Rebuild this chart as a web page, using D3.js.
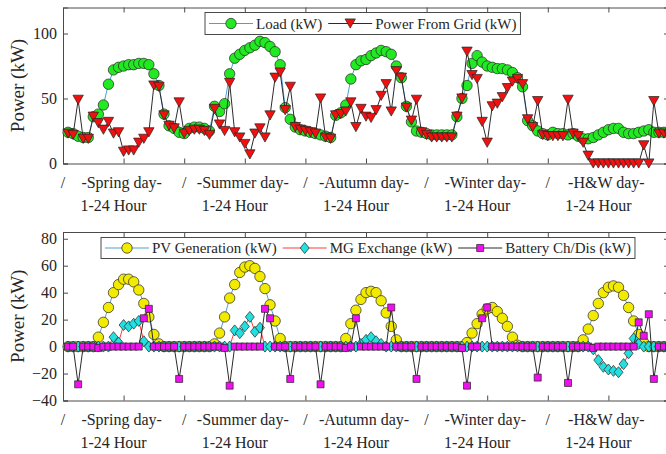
<!DOCTYPE html>
<html>
<head>
<meta charset="utf-8">
<script src="https://cdn.jsdelivr.net/npm/d3@7"></script>
<style>
  body { margin: 0; background: #fff; }
  svg { display: block; font-family: "Liberation Serif", "Times New Roman", serif; }
</style>
</head>
<body>
<div class="canvas"></div>
<script>
// hours 1..120 = 5 typical days x 24 h
const hours = d3.range(1, 121);
const dayNames = ['-Spring day-', '-Summer day-', '-Autumn day-', '-Winter day-', '-H&W day-'];
const hourLabel = '1-24 Hour';
const xTicks = d3.range(0, 121, 12);
const yTicksTop = [0, 50, 100];
const yTicksBot = [-40, -20, 0, 20, 40, 60, 80];

// top panel (kW)
const loadKW = [
  24, 23, 21, 20, 20, 36, 38, 45, 61, 72, 74, 75, 76, 76, 77, 77, 76, 69, 60, 38, 29, 27, 24, 23,
  27, 28, 28, 27, 25, 44, 40, 46, 69, 81, 84, 87, 89, 91, 94, 93, 90, 86, 76, 43, 34, 28, 26, 25,
  24, 23, 22, 21, 20, 37, 39, 45, 65, 76, 79, 80, 83, 85, 87, 86, 84, 75, 66, 44, 32, 25, 24, 23,
  22, 22, 22, 22, 22, 36, 50, 60, 77, 83, 78, 75, 74, 73, 73, 72, 70, 66, 59, 33, 29, 25, 23, 22,
  24, 23, 23, 22, 23, 21, 19, 19, 20, 22, 24, 26, 27, 27, 24, 23, 23, 24, 25, 26, 24, 24, 24, 24
];
const gridKW = [
  23, 22, 49, 19, 19, 36, 31, 26, 32, 23, 24, 9, 10, 10, 16, 19, 24, 60, 59, 37, 29, 27, 47, 23,
  25, 26, 26, 25, 22, 42, 30, 25, 62, 24, 20, 15, 7, 23, 27, 20, 37, 66, 70, 41, 59, 28, 26, 25,
  24, 23, 50, 20, 19, 37, 38, 40, 47, 28, 42, 36, 35, 41, 52, 61, 40, 71, 66, 43, 33, 49, 24, 22,
  20, 20, 20, 20, 20, 36, 50, 86, 68, 65, 32, 16, 44, 46, 51, 58, 63, 65, 61, 34, 28, 48, 22, 21,
  21, 21, 21, 49, 23, 21, 16, 6, 0, 0, 0, 0, 0, 0, 0, 0, 0, 0, 14, 0, 48, 23, 23, 22
];

// bottom panel (kW)
const pvKW = [
  0, 0, 0, 0, 0, 0, 7, 18, 29, 40, 46, 50, 50, 48, 42, 32, 22, 9, 2, 0, 0, 0, 0, 0,
  0, 0, 0, 0, 0, 2, 10, 22, 36, 46, 55, 59, 60, 58, 52, 43, 31, 19, 6, 0, 0, 0, 0, 0,
  0, 0, 0, 0, 0, 0, 0, 6, 17, 27, 35, 40, 41, 40, 34, 25, 15, 5, 0, 0, 0, 0, 0, 0,
  0, 0, 0, 0, 0, 0, 0, 3, 10, 17, 24, 28, 29, 26, 21, 15, 7, 1, 0, 0, 0, 0, 0, 0,
  0, 0, 0, 0, 0, 0, 5, 13, 23, 32, 40, 44, 45, 44, 38, 29, 19, 9, 3, 0, 0, 0, 0, 0
];
const mgKW = [
  0, 0, 0, 0, 0, 0, 0, 0, 0, 7, 3, 16, 15, 17, 19, 4, 0, 0, 0, 0, 0, 0, 0, 0,
  0, 0, 0, 0, 0, 0, 0, 0, 0, 12, 10, 15, 22, 11, 14, 0, 0, 0, 0, 0, 0, 0, 0, 0,
  0, 0, 0, 0, 0, 0, 0, 0, 0, 0, 2, 5, 7, 4, 2, 0, 0, 0, 0, 0, 0, 0, 0, 0,
  0, 0, 0, 0, 0, 0, 0, 0, 0, 0, 0, 0, 0, 0, 0, 0, 0, 0, 0, 0, 0, 0, 0, 0,
  0, 0, 0, 0, 0, 0, 0, 0, -2, -10, -15, -17, -18, -19, -13, -5, 6, 2, 0, 0, 0, 0, 0, 0
];
const batteryKW = [
  0, 0, -28, 0, 0, 0, -1, 0, 0, 0, 0, 0, 0, 0, 0, 21, 28, 0, 0, 0, 0, 0, -24, 0,
  0, 0, 0, 0, 0, 0, 0, -1, -29, 0, 0, 0, 0, 0, 0, 28, 21, 0, 0, 0, -24, 0, 0, 0,
  0, 0, -28, 0, 0, 0, 0, -1, 0, 21, 0, 0, 0, 0, 0, 0, 29, 0, 0, 0, 0, -24, 0, 0,
  0, 0, 0, 0, 0, 0, -1, -29, 0, 0, 21, 29, 0, 0, 0, 0, 0, 0, 0, 0, 0, -23, 0, 0,
  0, 0, 0, -27, 0, 0, 0, 0, -1, 0, 0, 0, 0, 0, 0, 0, 0, 18, 8, 24, -24, 0, 0, 0
];

const svg = d3.select('.canvas')
  .append('svg')
  .attr('width', 666)
  .attr('height', 454);

svg.append('rect').attr('width', 666).attr('height', 454).attr('fill', '#fff');

const x = d3.scaleLinear().domain([0, 120]).range([63, 669]);
const yTop = d3.scaleLinear().domain([0, 120]).range([163.5, 7.5]);
const yBot = d3.scaleLinear().domain([-40, 85]).range([400.5, 232]);

const axisColor = '#4a4a4a';

// marker shapes
const shapes = {
  circle: 'M5.2,0A5.2,5.2 0 1,1 -5.2,0A5.2,5.2 0 1,1 5.2,0Z',
  tri: 'M-5.2,-4.6L5.2,-4.6L0,4.6Z',
  diamond: 'M0,-5.5L4.5,0L0,5.5L-4.5,0Z',
  square: 'M-3.5,-3.5h7v7h-7Z'
};

function drawPanel(y, yTicks) {
  const g = svg.append('g');
  const [x0, x1] = x.range();
  const [y0, y1] = y.range();

  g.append('g')
    .attr('transform', `translate(0,${y0})`)
    .call(d3.axisBottom(x).tickValues(xTicks).tickSize(-5).tickFormat(''));
  g.append('g')
    .attr('transform', `translate(0,${y1})`)
    .call(d3.axisTop(x).tickValues(xTicks).tickSize(-5).tickFormat(''));
  g.append('g')
    .attr('transform', `translate(${x0},0)`)
    .call(d3.axisLeft(y).tickValues(yTicks).tickSize(-5).tickPadding(6));
  g.append('g')
    .attr('transform', `translate(${x1},0)`)
    .call(d3.axisRight(y).tickValues(yTicks).tickSize(-5).tickFormat(''));

  g.selectAll('.domain').attr('stroke', axisColor);
  g.selectAll('.tick line').attr('stroke', axisColor);
  g.selectAll('.tick text')
    .attr('fill', '#262626')
    .style('font-size', '16px')
    .style('font-family', '"Liberation Serif", serif');

  // two-row x labels (the "/" at the last tick falls off the page)
  const lab = g.append('g')
    .attr('fill', '#262626')
    .style('font-size', '16px')
    .attr('text-anchor', 'middle');
  d3.range(0, 120, 24).forEach(t => {
    lab.append('text').attr('x', x(t)).attr('y', y0 + 24).text('/');
  });
  dayNames.forEach((name, k) => {
    const t = 12 + 24 * k;
    lab.append('text').attr('x', x(t) - 2).attr('y', y0 + 24).text(name);
    lab.append('text').attr('x', x(t) - 10).attr('y', y0 + 47.5).text(hourLabel);
  });

  // y label
  const yc = (y0 + y1) / 2;
  g.append('text')
    .attr('transform', `translate(24,${yc}) rotate(-90)`)
    .attr('text-anchor', 'middle')
    .attr('fill', '#262626')
    .style('font-size', '19px')
    .text('Power (kW)');
  return g;
}

function drawSeries(y, values, s) {
  const line = d3.line()
    .x((d, i) => x(hours[i]))
    .y(d => y(d));
  svg.append('path')
    .datum(values)
    .attr('d', line)
    .attr('fill', 'none')
    .attr('stroke', s.line)
    .attr('stroke-width', 1);
  svg.append('g').selectAll('path')
    .data(values)
    .enter()
    .append('path')
    .attr('d', shapes[s.shape])
    .attr('transform', (d, i) => `translate(${x(hours[i])},${y(d)})`)
    .attr('fill', s.fill)
    .attr('stroke', '#222')
    .attr('stroke-width', 0.7);
}

function drawLegend(x0, y0, h, items) {
  const g = svg.append('g');
  const box = g.append('rect')
    .attr('x', x0).attr('y', y0).attr('height', h)
    .attr('fill', '#fff').attr('stroke', axisColor).attr('stroke-width', 1);
  let cx = x0 + 4;
  const cy = y0 + h / 2;
  items.forEach(it => {
    g.append('line')
      .attr('x1', cx).attr('x2', cx + 44).attr('y1', cy).attr('y2', cy)
      .attr('stroke', it.line).attr('stroke-width', 1);
    g.append('path')
      .attr('d', shapes[it.shape])
      .attr('transform', `translate(${cx + 22},${cy})`)
      .attr('fill', it.fill).attr('stroke', '#222').attr('stroke-width', 0.7);
    const t = g.append('text')
      .attr('x', cx + 47).attr('y', cy + 5)
      .attr('fill', '#262626')
      .style('font-size', it.size + 'px')
      .text(it.label);
    cx += 47 + t.node().getComputedTextLength() + 6;
  });
  box.attr('width', cx - x0 - 2);
}

const sLoad = { line: '#4f9fd6', fill: '#22ea22', shape: 'circle' };
const sGrid = { line: '#2b2b2b', fill: '#f01010', shape: 'tri' };
const sPV = { line: '#4f9fd6', fill: '#f2ea00', shape: 'circle' };
const sMG = { line: '#ff3b3b', fill: '#22e0e0', shape: 'diamond' };
const sBat = { line: '#2b2b2b', fill: '#ee10ee', shape: 'square' };

drawPanel(yTop, yTicksTop);
drawSeries(yTop, loadKW, sLoad);
drawSeries(yTop, gridKW, sGrid);
drawLegend(205, 12.5, 22, [
  Object.assign({ label: 'Load (kW)', size: 15 }, sLoad),
  Object.assign({ label: 'Power From Grid (kW)', size: 15 }, sGrid)
]);

drawPanel(yBot, yTicksBot);
drawSeries(yBot, pvKW, sPV);
drawSeries(yBot, mgKW, sMG);
drawSeries(yBot, batteryKW, sBat);
drawLegend(101, 237.5, 21, [
  Object.assign({ label: 'PV Generation (kW)', size: 15 }, sPV),
  Object.assign({ label: 'MG Exchange (kW)', size: 15 }, sMG),
  Object.assign({ label: 'Battery Ch/Dis (kW)', size: 15 }, sBat)
]);
</script>
</body>
</html>
